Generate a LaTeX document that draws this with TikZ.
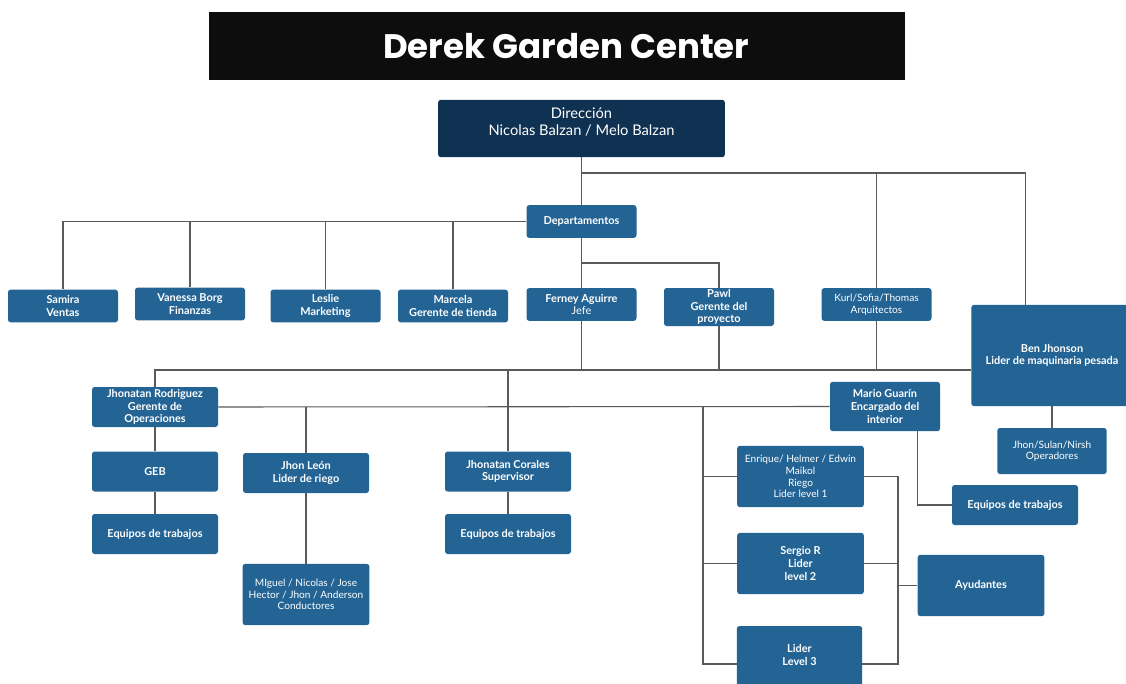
\documentclass[tikz,border=0pt]{standalone}
\usepackage{fontspec}
\setmainfont{Lato}
\newfontfamily\titlefont{Poppins}
\usetikzlibrary{shapes}
\usetikzlibrary{positioning}
\definecolor{boxblue}{HTML}{236495}
\definecolor{navy}{HTML}{0F3152}
\definecolor{wire}{HTML}{5A5A5A}

\begin{document}
\begin{tikzpicture}[x=0.75pt,y=-0.75pt]
	\tikzstyle{box}=[fill=boxblue,rounded corners=2pt,text=white,align=center,
		inner sep=1pt,font=\bfseries\fontsize{8.2}{9.4}\selectfont];
	\tikzstyle{plain}=[font=\mdseries\fontsize{7.6}{8.8}\selectfont];
	\tikzstyle{small}=[minimum width=82.5pt,minimum height=24.5pt];
	\tikzstyle{wide}=[minimum width=94.5pt,minimum height=30pt];
	\tikzstyle{tall}=[minimum width=95pt,minimum height=46pt];
	\tikzstyle{wire}=[draw=wire,line width=0.8pt];
	\useasboundingbox (0,0) rectangle (1126,684);
	\fill[white] (0,0) rectangle (1126,684);

	% title and top
	\path (557,46) node[fill=black!95,minimum width=522pt,minimum height=51pt,
		text=white,font=\titlefont\bfseries\fontsize{25.5}{30}\selectfont] (title) {\hspace{14pt}Derek Garden Center};
	\path (581.5,128.5) node[box,fill=navy,minimum width=215pt,minimum height=43pt,
		font=\fontsize{11}{12.8}\selectfont] (dir) {Dirección\\Nicolas Balzan / Melo Balzan\\[-3pt]\mbox{}};
	\path (581.5,221.5) node[box,small] (dep) {Departamentos};

	% departamentos
	\path (63,306)    node[box,small] (samira)  {Samira\\Ventas};
	\path (190,304)   node[box,small] (vanessa) {Vanessa Borg\\Finanzas};
	\path (325.5,306) node[box,small] (leslie)  {Leslie\\Marketing};
	\path (453,306)   node[box,small] (marcela) {Marcela\\Gerente de tienda};
	\path (581.5,304.5) node[box,small] (ferney) {Ferney Aguirre\\{\mdseries Jefe}};
	\path (719,307)   node[box,minimum width=82.5pt,minimum height=28.5pt] (pawl) {Pawl\\Gerente del\\proyecto};
	\path (876.5,304.5) node[box,plain,small] (kurl) {Kurl/Sofia/Thomas\\Arquitectos};
	\path (1052,355.5) node[box,minimum width=121pt,minimum height=76pt] (ben) {Ben Jhonson\\Lider de maquinaria pesada};

	% operaciones
	\path (155,407)   node[box,wide] (jrod)  {Jhonatan Rodriguez\\Gerente de\\Operaciones};
	\path (155,471.5) node[box,wide] (geb)   {GEB};
	\path (155,534)   node[box,wide] (eq1)   {Equipos de trabajos};
	\path (306,473)   node[box,wide] (jleon) {Jhon León\\Lider de riego};
	\path (306,594.5) node[box,plain,tall] (miguel) {MIguel / Nicolas / Jose\\Hector / Jhon / Anderson\\Conductores};
	\path (508,471.5) node[box,wide] (jcor)  {Jhonatan Corales\\Supervisor};
	\path (508,534)   node[box,wide] (eq2)   {Equipos de trabajos};

	% interior
	\path (885,406.5)  node[box,minimum width=82.5pt,minimum height=37pt] (mario) {Mario Guarín\\Encargado del\\interior};
	\path (1052,451)   node[box,plain,minimum width=82pt,minimum height=34.5pt] (jsn) {Jhon/Sulan/Nirsh\\Operadores};
	\path (1015,505)   node[box,wide] (eq3)   {Equipos de trabajos};
	\path (800.5,476.5) node[box,plain,tall] (enrique) {Enrique/ Helmer / Edwin\\Maikol\\Riego\\Lider level 1};
	\path (800.5,563.5) node[box,tall] (sergio) {Sergio R\\Lider\\level 2};
	\path (981,585.5)  node[box,tall] (ayud)   {Ayudantes};
	\path (799.5,664)  node[box,minimum width=94pt,minimum height=57pt] (lider3) {Lider\\Level 3\\[4pt]\mbox{}};

	\coordinate (top) at (581.5,173);
	\coordinate (dp)  at (581.5,263);
	\coordinate (bus) at (971,370);
	\coordinate (lb)  at (703,407);
	\coordinate (rb)  at (898,664);

	% connectors
	\draw[wire] (dir.south) -- (dep.north);
	\draw[wire] (top) -| ([xshift=-20pt]ben.north);
	\draw[wire] (kurl.north) -- (kurl.north |- top);
	\draw[wire] (dep.west) -| (samira.north);
	\draw[wire] (vanessa.north) -- (vanessa.north |- dep.west);
	\draw[wire] (leslie.north) -- (leslie.north |- dep.west);
	\draw[wire] (marcela.north) -- (marcela.north |- dep.west);
	\draw[wire] (dep.south) -- (ferney.north);
	\draw[wire] (dp) -| (pawl.north);
	\draw[wire] (jrod.north) |- (bus);
	\draw[wire] (ferney.south) -- (ferney.south |- bus);
	\draw[wire] (pawl.south) -- (pawl.south |- bus);
	\draw[wire] (kurl.south) -- (kurl.south |- bus);
	\draw[wire] (jcor.north) -- (jcor.north |- bus);
	\draw[wire] (jrod.east) -- (mario.west);
	\draw[wire] (jleon.north) -- (jleon.north |- jrod.east);
	\draw[wire] (jrod.south) -- (geb.north);
	\draw[wire] (geb.south) -- (eq1.north);
	\draw[wire] (jleon.south) -- (miguel.north);
	\draw[wire] (jcor.south) -- (eq2.north);
	\draw[wire] (lb) |- (lider3.west);
	\draw[wire] (lb |- enrique.west) -- (enrique.west);
	\draw[wire] (lb |- sergio.west) -- (sergio.west);
	\draw[wire] (enrique.east) -| (rb) -- (lider3.east);
	\draw[wire] (sergio.east) -- (sergio.east -| rb);
	\draw[wire] (ayud.west) -- (ayud.west -| rb);
	\draw[wire] ([xshift=24.5pt]mario.south) |- (eq3.west);
	\draw[wire] (ben.south) -- (jsn.north);
\end{tikzpicture}
\end{document}
